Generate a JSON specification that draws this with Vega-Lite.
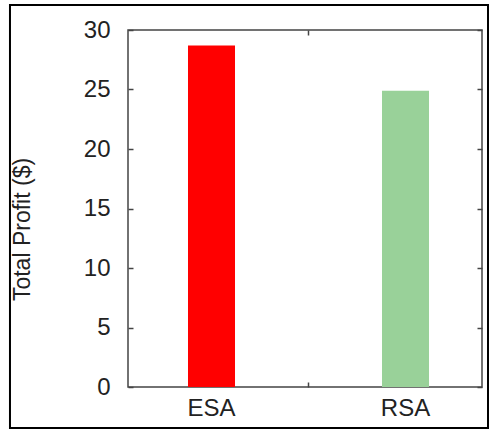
{
  "$schema": "https://vega.github.io/schema/vega-lite/v6.json",
  "width": 354,
  "height": 357,
  "autosize": {"type": "none"},
  "padding": {"left": 128, "top": 30, "right": 8, "bottom": 43},
  "background": "white",
  "config": {
    "view": {"stroke": "#444444", "strokeWidth": 1.5},
    "font": "Liberation Sans",
    "axis": {"labelFont": "Liberation Sans", "titleFont": "Liberation Sans", "labelColor": "#222222", "titleColor": "#222222", "tickColor": "#444444", "tickWidth": 1.5, "grid": false, "domain": false}
  },
  "data": {"values": [{"method": "ESA", "profit": 28.7}, {"method": "RSA", "profit": 24.9}]},
  "resolve": {"axis": {"x": "independent", "y": "independent"}},
  "layer": [
    {
      "data": {"values": [{"frame": "outer"}]},
      "mark": {"type": "rect", "filled": false, "fill": null, "stroke": "black", "strokeWidth": 2},
      "encoding": {
        "x": {
          "datum": "ESA", "type": "nominal", "bandPosition": -3.787,
          "scale": {"type": "band", "domain": ["ESA", "RSA"], "paddingInner": 0.7577, "paddingOuter": 0.2912, "align": 0.531},
          "axis": {"orient": "top", "title": null, "labels": false, "bandPosition": 2.564, "tickSize": -5,
                   "tickOpacity": {"condition": {"test": "datum.value === 'RSA'", "value": 0}, "value": 1}}
        },
        "x2": {"datum": "RSA", "bandPosition": 2.255},
        "y": {
          "datum": 32.1, "type": "quantitative",
          "scale": {"domain": [0, 30], "nice": false, "zero": true},
          "axis": {"orient": "right", "title": null, "labels": false, "values": [0, 5, 10, 15, 20, 25, 30], "tickSize": -5}
        },
        "y2": {"datum": -3.445}
      }
    },
    {
      "mark": {"type": "bar"},
      "encoding": {
        "x": {
          "field": "method", "type": "nominal",
          "scale": {"type": "band", "domain": ["ESA", "RSA"], "paddingInner": 0.7577, "paddingOuter": 0.2912, "align": 0.531},
          "axis": {"orient": "bottom", "title": null, "labelAngle": 0, "labelFontSize": 24, "labelPadding": 14,
                   "bandPosition": 2.564, "tickSize": -5,
                   "tickOpacity": {"condition": {"test": "datum.value === 'RSA'", "value": 0}, "value": 1}}
        },
        "y": {
          "field": "profit", "type": "quantitative",
          "scale": {"domain": [0, 30], "nice": false, "zero": true},
          "axis": {"orient": "left", "title": "Total Profit ($)", "titleFontSize": 23, "titleFontWeight": "normal",
                   "titlePadding": 49, "titleY": 199, "labelFontSize": 24, "labelPadding": 23, "labelFlush": false,
                   "values": [0, 5, 10, 15, 20, 25, 30], "tickSize": -5}
        },
        "color": {
          "field": "method", "type": "nominal",
          "scale": {"domain": ["ESA", "RSA"], "range": ["#ff0000", "#99d199"]},
          "legend": null
        }
      }
    }
  ]
}
